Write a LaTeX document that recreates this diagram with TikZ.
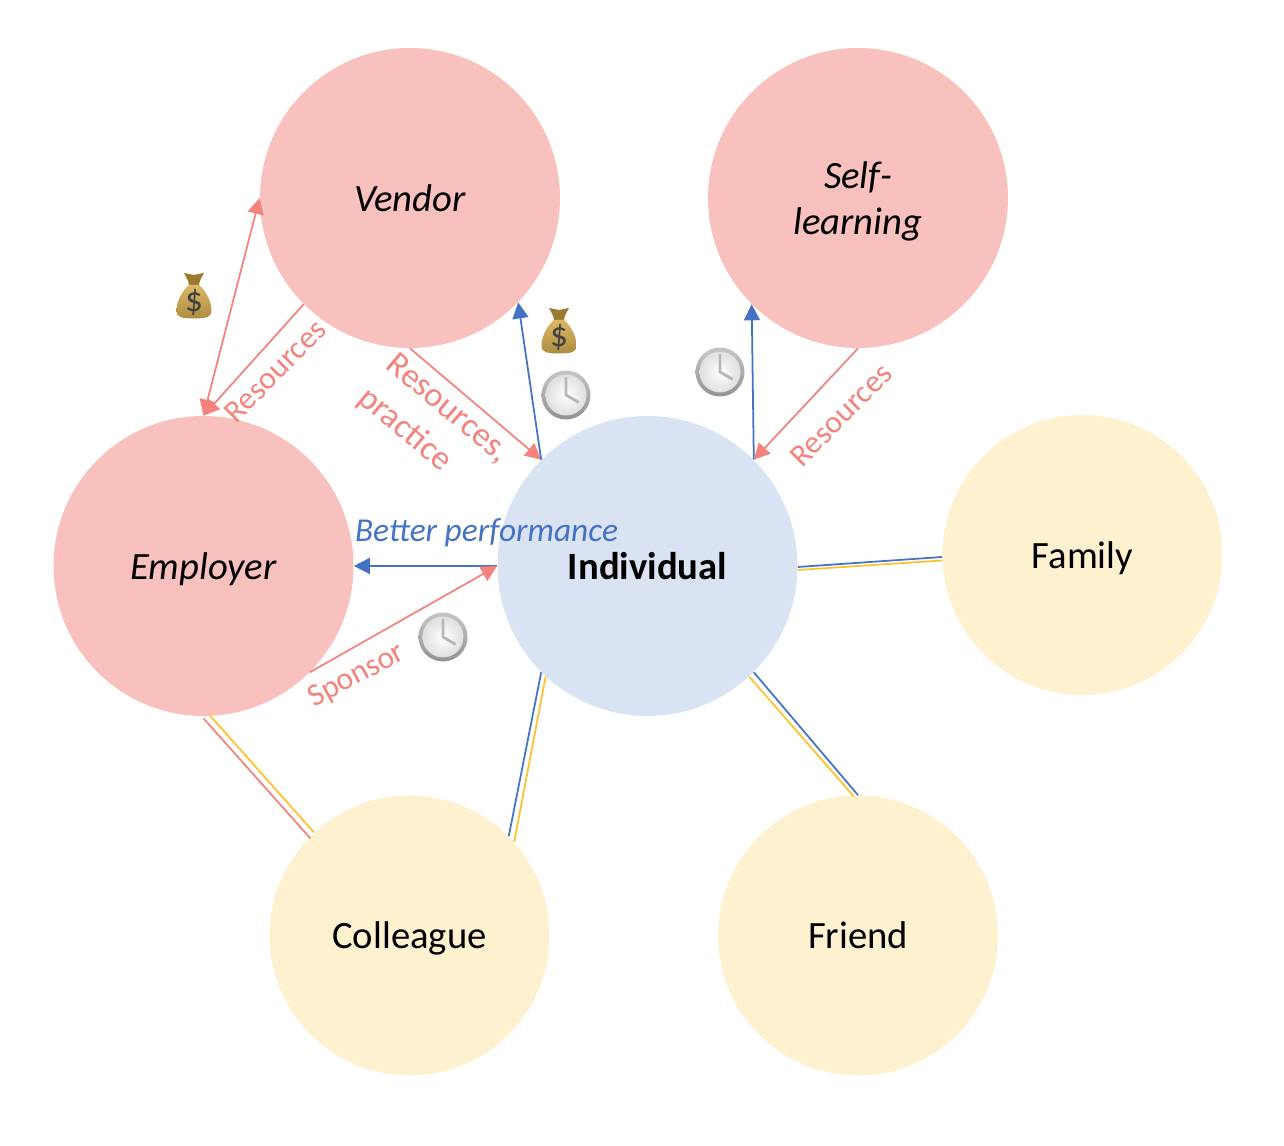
\documentclass[tikz,border=0pt]{standalone}
\usepackage{fontspec}
\setmainfont{Carlito}
\usetikzlibrary{arrows.meta}
\definecolor{redfill}{HTML}{F8C1BE}
\definecolor{bluefill}{HTML}{DAE3F3}
\definecolor{yellowfill}{HTML}{FDF1D0}
\definecolor{redline}{HTML}{F4837D}
\definecolor{blueline}{HTML}{4472C4}
\definecolor{yellowline}{HTML}{FFC12E}
\definecolor{bagbody}{HTML}{D8B052}
\definecolor{bagdark}{HTML}{9A7A30}
\tikzset{tip/.style = {-{Triangle[length=0.32cm, width=0.32cm]}}}
\tikzset{bothtips/.style = {{Triangle[length=0.32cm, width=0.32cm]}-{Triangle[length=0.32cm, width=0.32cm]}}}
\tikzset{bigtext/.style = {font=\fontsize{22}{26.6}\selectfont}}
\tikzset{circ/.style = {circle, inner sep = 0, minimum size = 6cm, align=center, text depth=0, bigtext}}
\tikzset{small/.style = {circ, minimum size = 5.6cm, fill=yellowfill}}
\tikzset{lab/.style = {font=\fontsize{18}{21}\selectfont, text=redline, align=center, inner sep=0}}
\tikzset{red/.style = {redline, line width=1pt}}
\tikzset{blue/.style = {blueline, line width=1pt}}
\tikzset{yellow/.style = {yellowline, line width=1pt}}
\tikzset{clock/.pic = {
      \shade [top color=gray!45, bottom color=gray!85] (0, 0) circle (0.49);
      \shade [inner color=white, outer color=gray!25] (0, 0) circle (0.41);
      \draw [gray!55, line width=1.6pt, line cap=round] (0, 0.34) -- (0, 0) -- (0.24, -0.14);
    }}
\tikzset{moneybag/.pic = {
      \fill [bagdark] (-0.1, 0.2) .. controls (-0.1, 0.3) and (-0.16, 0.38) .. (-0.2, 0.46)
        -- (0, 0.42) -- (0.2, 0.46) .. controls (0.16, 0.38) and (0.1, 0.3) .. (0.1, 0.2) -- cycle;
      \shade [top color=bagbody!90!white, bottom color=bagbody!80!black]
        (-0.1, 0.22) .. controls (-0.22, 0.12) and (-0.35, -0.08) .. (-0.35, -0.3)
        .. controls (-0.35, -0.42) and (-0.25, -0.45) .. (0, -0.45)
        .. controls (0.25, -0.45) and (0.35, -0.42) .. (0.35, -0.3)
        .. controls (0.35, -0.08) and (0.22, 0.12) .. (0.1, 0.22) -- cycle;
      \node [inner sep=0, text=black!75, font=\fontsize{20}{22}\selectfont] (-dollar) at (0, -0.12) {\$};
    }}
\begin{document}
\begin{tikzpicture}
      \useasboundingbox (0, 0) rectangle (25.68, 22.92);

      % pink circles
      \node [circ, fill=redfill] (vendor) at (8.2, 18.96) {\itshape Vendor};
      \node [circ, fill=redfill] (self) at (17.16, 18.96) {\itshape Self-\\\itshape learning};
      \node [circ, fill=redfill] (employer) at (4.07, 11.6) {\itshape Employer};
      \node [circ, fill=bluefill] (individual) at (12.95, 11.6) {\bfseries Individual};

      % yellow circles
      \node [small] (family) at (21.65, 11.82) {Family};
      \node [small] (colleague) at (8.19, 4.21) {Colleague};
      \node [small] (friend) at (17.16, 4.21) {Friend};

      % arrows round the vendor
      \draw [red, bothtips] (employer.90) -- (vendor.180);
      \draw [red, tip] (vendor.225) -- (employer.90);
      \draw [red, tip] (vendor.270) -- (individual.135);
      \draw [blue, tip] (individual.135) -- (vendor.-44);

      % arrows round self-learning
      \draw [blue, tip] (individual.45) -- (self.225);
      \draw [red, tip] (self.270) -- (individual.45);

      % arrows to the employer
      \draw [blue, tip] (individual.180) -- (employer.0);
      \draw [red, tip] (employer.-45) -- (individual.180);

      % double lines
      \draw [blue] ([yshift=-0.02cm]individual.0) -- ([yshift=-0.04cm]family.180);
      \draw [yellow] ([yshift=-0.08cm]individual.0) -- ([yshift=-0.11cm]family.180);
      \draw [blue] (individual.-45) -- (friend.90);
      \draw [yellow] ([shift={(-0.09, -0.09)}]individual.-45) -- ([shift={(-0.08, -0.03)}]friend.90);
      \draw [blue] (individual.225) -- (colleague.45);
      \draw [yellow] ([shift={(0.09, -0.08)}]individual.225) -- ([shift={(0.11, -0.11)}]colleague.45);
      \draw [red] ([yshift=-0.04cm]employer.270) -- ([shift={(0, -0.04)}]colleague.135);
      \draw [yellow] ([shift={(0.11, 0.04)}]employer.270) -- ([shift={(0.07, 0.08)}]colleague.135);

      % labels
      \node [lab, rotate=45] (res1) at (5.5, 15.5) {Resources};
      \node [lab, rotate=-40, align=left, font=\fontsize{19.5}{25}\selectfont] (res2) at (8.66, 14.4) {Resources,\\practice};
      \node [lab, rotate=45] (res3) at (16.82, 14.62) {Resources};
      \node [lab, rotate=28] (spons) at (7.14, 9.4) {Sponsor};
      \node [lab, text=blueline, font=\fontsize{19}{22}\selectfont\itshape] (better) at (9.73, 12.26) {Better performance};

      % icons
      \pic at (3.88, 17.0) {moneybag};
      \pic at (11.18, 16.3) {moneybag};
      \pic at (11.32, 15.02) {clock};
      \pic at (14.4, 15.48) {clock};
      \pic at (8.86, 10.18) {clock};
    \end{tikzpicture}
\end{document}
